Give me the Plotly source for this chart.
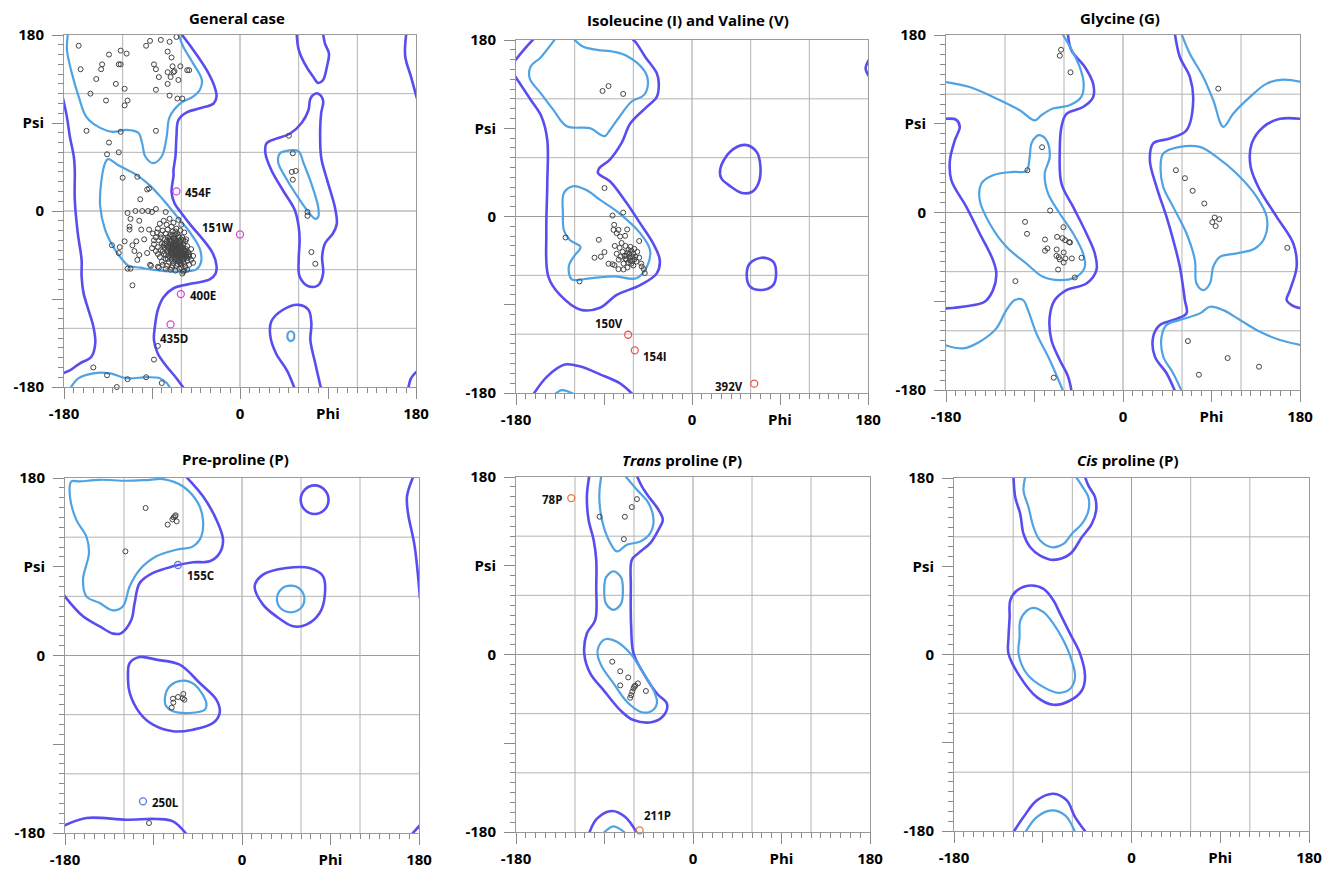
import plotly.graph_objects as go

# ---------------- general settings ----------------
W, H = 1328, 870
DARK = "#5a4df0"
LIGHT = "#4fa3e3"
PT_COLOR = "#444444"
FONT = "Open Sans"

TICK_VALS = [-180, -90, 0, 90, 180]
X_TICK_TEXT = ["-180", "", "0", "Phi", "180"]
Y_TICK_TEXT = ["-180", "", "0", "Psi", "180"]
GRID_VALS = [-120, -60, 0, 60, 120]

TITLES = ["<b>General case</b>", "<b>Isoleucine (I) and Valine (V)</b>", "<b>Glycine (G)</b>",
          "<b>Pre-proline (P)</b>", "<b><i>Trans</i> proline (P)</b>", "<b><i>Cis</i> proline (P)</b>"]

# ---------------- panel 1 : general case ----------------
P1_OUTER = [
    [(-181, 115), (-177, 96), (-174, 76), (-170, 56), (-169, 42), (-169, 12), (-166, -22), (-162, -50),
     (-162, -67), (-160, -84), (-155, -101), (-150, -118), (-148, -135), (-152, -149), (-164, -156),
     (-174, -163), (-181, -166)],
    [(-60, 181), (-48, 165), (-34, 144), (-26, 127), (-24, 117), (-27, 110), (-41, 105), (-54, 101),
     (-63, 93), (-65, 76), (-66, 56), (-68, 42), (-68, 36), (-70, 19), (-67, 8), (-60, -2), (-50, -15),
     (-38, -29), (-28, -43), (-24, -56), (-25, -64), (-31, -70), (-48, -74), (-68, -79), (-78, -88),
     (-84, -101), (-87, -118), (-88, -132), (-84, -146), (-75, -159), (-65, -171), (-57, -182)],
    [(58, 181), (60, 165), (66, 151), (75, 137), (80, 131), (85, 134), (89, 148), (91, 161), (87, 171), (85, 181)],
    [(56, -182), (48, -163), (37, -146), (31, -128), (32, -113), (44, -101), (60, -96), (70, -101),
     (73, -115), (72, -132), (77, -156), (83, -182)],
    [(80, 120), (85, 113), (83, 100), (82, 83), (83, 55), (89, 32), (97, 4), (99, -13), (95, -23), (87, -33),
     (84, -47), (85, -64), (80, -76), (70, -77), (61, -67), (60, -50), (61, -30), (60, -16), (56, 1),
     (44, 21), (32, 42), (26, 59), (27, 69), (37, 74), (51, 79), (63, 90), (70, 103), (72, 115), (77, 120), (80, 120)],
    [(170, 181), (169, 158), (175, 137), (181, 115)],
    [(172, -182), (175, -171), (181, -164)],
]
P1_INNER = [
    [(-176, 181), (-177, 165), (-172, 141), (-165, 117), (-157, 96), (-143, 85), (-130, 81), (-116, 83),
     (-104, 80), (-100, 69), (-97, 56), (-89, 49), (-80, 56), (-75, 76), (-72, 96), (-61, 110), (-48, 117),
     (-41, 124), (-39, 134), (-48, 151), (-58, 168), (-63, 181)],
    [(-174, -182), (-165, -171), (-150, -166), (-133, -166), (-116, -171), (-95, -170), (-82, -171),
     (-75, -176), (-71, -182)],
    [(-135, 53), (-123, 46), (-106, 37), (-92, 26), (-79, 12), (-65, -5), (-51, -22), (-41, -39), (-40, -53),
     (-45, -60), (-62, -62), (-82, -61), (-102, -58), (-114, -56), (-121, -49), (-130, -36), (-138, -19),
     (-143, 5), (-142, 29), (-138, 49), (-135, 53)],
    [(41, 59), (51, 62), (60, 61), (65, 49), (73, 28), (80, 4), (80, -6), (77, -8), (70, -1), (60, 13),
     (48, 32), (39, 50), (41, 59)],
    [(52, -123), (55, -125), (55, -131), (52, -133), (49, -131), (49, -125), (52, -123)],
]
P1_POINTS = [
    # beta / upper-left region
    (-165, 169), (-134, 160), (-122, 164), (-116, 161), (-141, 150), (-142, 145), (-124, 150), (-122, 150),
    (-163, 145), (-147, 135), (-127, 130), (-118, 125), (-153, 120), (-137, 113), (-115, 113), (-118, 108),
    (-96, 169), (-92, 174), (-81, 175), (-72, 173), (-65, 178), (-74, 163), (-70, 157), (-88, 150), (-86, 145),
    (-74, 142), (-69, 148), (-67, 143), (-68, 142), (-71, 137), (-61, 148), (-54, 144), (-52, 144), (-83, 137),
    (-63, 134), (-74, 130), (-86, 124), (-72, 118), (-64, 115), (-59, 115), (-157, 82), (-122, 81), (-86, 82),
    (-134, 70), (-136, 58), (-124, 60),
    # sparse alpha region
    (-120, 34), (-105, 35), (-93, 23), (-95, 22), (-102, 12), (-115, -2), (-107, 0), (-100, 0), (-94, 0),
    (-90, -1), (-86, 2), (-76, -1), (-112, -8), (-103, -10), (-113, -16), (-113, -19), (-101, -19), (-93, -19),
    (-89, -23), (-118, -31), (-106, -31), (-98, -29), (-131, -35), (-123, -37), (-124, -43), (-110, -35),
    (-108, -41), (-103, -45), (-95, -43), (-91, -56), (-105, -50), (-115, -59), (-112, -59), (-83, -58),
    (-92, -55), (-84, -57), (-71, -60), (-58, -62),
    # dense alpha cluster
    (-78, -10), (-72, -8), (-68, -12), (-63, -9), (-75, -14), (-82, -13), (-60, -14), (-70, -16),
    (-84, -18), (-79, -20), (-74, -19), (-69, -21), (-65, -18), (-61, -20), (-57, -22), (-76, -23), (-81, -24),
    (-66, -24), (-86, -27), (-72, -26), (-68, -28), (-63, -26), (-59, -27), (-55, -29), (-77, -29), (-83, -30),
    (-70, -31), (-65, -30), (-61, -32), (-88, -34), (-80, -33), (-75, -35), (-72, -33), (-67, -35), (-63, -36),
    (-58, -34), (-54, -36), (-69, -38), (-77, -38), (-84, -37), (-60, -38), (-65, -33), (-56, -31), (-86, -41),
    (-81, -40), (-74, -41), (-71, -43), (-66, -40), (-62, -42), (-57, -40), (-53, -42), (-50, -39), (-68, -45),
    (-64, -44), (-59, -45), (-78, -44), (-55, -44), (-73, -46), (-82, -47), (-76, -49), (-70, -50), (-66, -48),
    (-61, -49), (-57, -48), (-52, -47), (-48, -46), (-63, -52), (-58, -52), (-54, -51), (-68, -53), (-73, -52),
    (-50, -50), (-79, -55), (-65, -56), (-60, -55), (-56, -57), (-52, -55), (-62, -59), (-57, -61), (-54, -60),
    (-70, -58), (-48, -53), (-66, -61), (-59, -64), (-76, -59), (-67, -37), (-64, -39), (-62, -37), (-69, -41),
    (-66, -43), (-61, -44), (-63, -47), (-60, -41), (-58, -38), (-65, -46), (-71, -39), (-68, -34), (-62, -30),
    (-57, -43), (-59, -50), (-64, -35), (-70, -36), (-67, -31), (-72, -29), (-56, -47), (-61, -53), (-53, -45),
    (-74, -37), (-67, -50), (-55, -39), (-78, -35), (-75, -31), (-81, -27), (-66, -21), (-71, -24), (-85, -22),
    (-88, -30), (-90, -38), (-84, -44), (-80, -52), (-75, -56),
    (-66, -36), (-64, -41), (-61, -40), (-63, -43), (-67, -42), (-65, -38), (-62, -45), (-60, -47), (-58, -43),
    (-64, -49), (-69, -46), (-66, -45), (-63, -40), (-60, -36), (-68, -39), (-70, -44), (-59, -40), (-65, -42),
    (-62, -39), (-67, -47), (-56, -41), (-61, -35), (-64, -37), (-57, -45), (-69, -33), (-71, -41), (-66, -34),
    (-58, -49), (-55, -46), (-62, -51), (-65, -51), (-70, -47), (-73, -43), (-72, -36), (-60, -43), (-63, -33),
    (-67, -28), (-71, -31), (-58, -30), (-54, -48), (-52, -44), (-57, -54), (-60, -58), (-64, -54), (-69, -56),
    (-74, -49), (-76, -45), (-79, -41), (-73, -38), (-77, -33), (-74, -27), (-69, -25), (-64, -23), (-62, -27),
    (-66, -30), (-60, -29),
    # lower-left region
    (-110, -76), (-84, -138), (-88, -152), (-150, -160), (-136, -168), (-115, -172), (-96, -170), (-80, -176),
    (-126, -180),
    # left-handed region
    (50, 77), (54, 59), (53, 40), (57, 41), (54, 32), (69, -1), (69, -5), (73, -42), (77, -54),
]
P1_OUT_NAMES = ["454F", "151W", "400E", "435D"]
P1_OUT_PHI = [-65, 0, -60.5, -71]
P1_OUT_PSI = [20, -24, -85, -116]
P1_LABEL_PHI = [-58, -4, -53, -68]
P1_LABEL_PSI = [19, -17, -86, -130]
P1_LABEL_ANCHOR = ["left", "right", "left", "center"]

# ---------------- panel 2 : Ile / Val ----------------
P2_OUTER = [
    [(-181, 159), (-172, 170), (-162, 181)],
    [(-181, 143), (-165, 119), (-154, 102), (-148, 78), (-148, 34), (-149, -17), (-147, -61), (-135, -80),
     (-114, -95), (-94, -93), (-77, -80), (-53, -70), (-36, -58), (-33, -44), (-40, -27), (-53, -7), (-67, 14),
     (-84, 36), (-96, 44), (-95, 49), (-84, 58), (-72, 75), (-63, 95), (-46, 112), (-36, 122), (-34, 136),
     (-36, 146), (-48, 163), (-57, 177), (-61, 181)],
    [(-162, -181), (-148, -163), (-130, -151), (-114, -153), (-94, -161), (-74, -170), (-61, -181)],
    [(181, 160), (177.6, 151), (181, 143)],
    [(29, 49), (39, 66), (54, 73), (66, 66), (70, 51), (68, 34), (61, 25), (51, 24), (39, 31), (30, 39), (29, 49)],
    [(56, -58), (59, -48), (71, -42), (83, -46), (86, -58), (83, -70), (71, -75), (59, -71), (56, -58)],
]
P2_INNER = [
    [(-121, 181), (-111, 173), (-97, 170), (-80, 168), (-67, 164), (-49, 149), (-45, 137), (-49, 124),
     (-62, 117), (-74, 102), (-84, 88), (-89, 82), (-93, 83), (-104, 90), (-128, 92), (-142, 109), (-155, 126),
     (-166, 141), (-165, 153), (-155, 162), (-140, 181)],
    [(-140, -181), (-133, -177), (-121, -181)],
    [(-131, 24), (-121, 31), (-108, 27), (-94, 17), (-74, 3), (-53, -17), (-43, -34), (-46, -51), (-57, -63),
     (-80, -61), (-104, -63), (-123, -64), (-126, -51), (-121, -41), (-114, -31), (-125, -24), (-131, -14),
     (-132, 3), (-131, 24)],
]
P2_POINTS = [
    (-91.5, 128), (-85.4, 133), (-70.4, 125), (-89.5, 29), (-70.4, 4), (-81.3, 1), (-129.3, -21.4),
    (-95.3, -23.8), (-66.3, -13.2), (-79.6, -8.5), (-75.2, -13.6), (-80.3, -13.6), (-77, -17), (-73.5, -20.4),
    (-68.4, -19.7), (-54, -25), (-89.5, -36.3), (-93.2, -41), (-99.7, -42), (-85.4, -48.2), (-81.3, -48.6),
    (-79.3, -49.6), (-75.2, -53.7), (-115, -66.2), (-48.3, -57.7), (-49.3, -53.7), (-51.4, -51),
    (-62, -35), (-66, -37), (-69, -40), (-64, -42), (-60, -38), (-71, -36), (-67, -44), (-61, -45), (-58, -41),
    (-73, -41), (-65, -47), (-70, -48), (-75, -44), (-56, -36), (-63, -31), (-68, -30), (-72, -27), (-57, -46),
    (-54, -42), (-60, -50), (-66, -52), (-77, -38), (-59, -33), (-74, -32), (-62, -48), (-68, -43), (-65, -34),
    (-52, -48), (-79, -30), (-70, -54), (-64, -38), (-61, -41), (-67, -40), (-63, -45), (-59, -44),
]
P2_OUT_NAMES = ["150V", "154I", "392V"]
P2_OUT_PHI = [-65.3, -58.5, 63.6]
P2_OUT_PSI = [-120.6, -136.5, -170.5]
P2_LABEL_PHI = [-84.7, -52, 54]
P2_LABEL_PSI = [-109, -143, -173]
P2_LABEL_ANCHOR = ["center", "left", "right"]

# ---------------- panel 3 : glycine ----------------
P3_OUTER = [
    [(-56, 181), (-52.5, 164.5), (-38.8, 147.6), (-30.4, 130.7), (-30.4, 117), (-40.6, 107), (-57.5, 100),
     (-62.6, 86.8), (-64.3, 63), (-62.6, 29.4), (-50.7, 5.7), (-37.2, -21.3), (-28.7, -41.5), (-27, -58.4),
     (-37.2, -72), (-57.5, -78.7), (-69.4, -88.8), (-74.5, -105.7), (-72.8, -129.3), (-64.3, -149.6),
     (-55.8, -166.5), (-52.4, -181)],
    [(-181, 95), (-169.5, 94), (-166, 86.8), (-171, 73.3), (-176, 53), (-174.6, 32.8), (-159.3, 5.7),
     (-145.7, -21.3), (-132.2, -48.3), (-128.8, -61.8), (-132.2, -78.7), (-140.7, -90.5), (-159.3, -95),
     (-181, -97.3)],
    [(52.8, 181), (57.8, 157.7), (68, 137.5), (71.4, 113.8), (64.6, 83.4), (47.7, 75), (30.7, 70), (27.3, 53),
     (34.1, 26), (44.3, -4.4), (51.1, -28), (57.8, -55), (62.9, -88.8), (64.6, -102.3), (51, -109),
     (37.5, -114), (30.7, -126), (32.4, -146.2), (44.3, -163), (52.8, -181)],
    [(181, 95), (159.7, 95), (142.7, 86.8), (130.9, 70), (129.8, 46.3), (139.3, 22.6), (156.3, -4.4),
     (173.2, -31.4), (176.6, -55), (169.8, -78.7), (166.4, -88.8), (171.5, -93.9), (181, -97.3)],
]
P3_INNER = [
    [(-181, 132.4), (-156, 127.3), (-132.2, 117.2), (-105, 103.7), (-89.8, 93.5), (-83, 98.6), (-71.3, 105.4),
     (-54.3, 108.7), (-42.4, 117.2), (-40, 130.7), (-44, 147.6), (-52, 164.5), (-61.5, 181)],
    [(-84.6, 78.4), (-77.8, 73.3), (-74.5, 56.4), (-79.6, 39.5), (-76.2, 19.3), (-64.3, -1), (-50.7, -21.3),
     (-40.6, -41.5), (-38.8, -55), (-47.3, -65.2), (-64.3, -68.6), (-81.3, -65.2), (-98.3, -51.7),
     (-118.6, -34.8), (-135.6, -11.1), (-145.7, 12.5), (-144, 29.4), (-132.2, 37.8), (-111.8, 41.2),
     (-98.3, 41.9), (-94.9, 56.4), (-93.2, 69.9), (-88.1, 77.3), (-84.6, 78.4)],
    [(-181, -134.4), (-162.7, -137.8), (-145.7, -131), (-128.8, -117.5), (-118.6, -99), (-110, -88.8),
     (-101.6, -88.8), (-96.6, -99), (-88.1, -122.6), (-74.5, -149.6), (-60.9, -181)],
    [(59.6, 181), (68, 161), (81.6, 137.5), (91.8, 113.8), (102, 86.8), (112.2, 100.3), (129.2, 117.2),
     (146.1, 130.7), (163, 134.8), (181, 132.4)],
    [(40.9, 59.8), (57.8, 66.5), (78.2, 66.5), (95.1, 56.4), (115.5, 39.5), (135.9, 15.9), (146.1, -4.4),
     (144.4, -24.7), (134.2, -36.5), (115.5, -41.5), (98.5, -45), (91.8, -55), (88.4, -72), (81.6, -78.7),
     (74.8, -72), (73.1, -48.3), (64.6, -21.3), (51, 5.7), (40.9, 26), (38.2, 46.3), (40.9, 59.8)],
    [(181, -134.4), (159.7, -129.3), (139.3, -121), (119, -109), (102, -99), (88.4, -95.6), (78.2, -102.3),
     (57.8, -109), (44.3, -114), (39.2, -126), (40.9, -146), (51, -163), (59.6, -181)],
]
P3_POINTS = [
    (-63, 165), (-64.3, 159), (-53.4, 142.2), (-82.3, 66.2), (-97.2, 42.9), (-74.1, 2), (-99.6, -9.5),
    (-97.6, -21.6), (-79.3, -27.4), (-67, -24.7), (-61.6, -26), (-58.9, -28), (-54.8, -30), (-53.8, -30.4),
    (-60.6, -14.9), (-76.9, -36.5), (-79.3, -38.8), (-67.4, -37.5), (-60.3, -40.5), (-67.7, -43.9),
    (-65.3, -45.3), (-64.3, -47.6), (-60.3, -50.7), (-58.5, -46.6), (-52, -46.6), (-42.2, -45.9), (-66, -57.8),
    (-49, -65.9), (-109.4, -69.6), (-70.4, -167.5),
    (96.9, 125.6), (53.8, 42.9), (63, 34.8), (70.8, 22), (82.7, 9.1), (93.2, -5.1), (97.9, -6.8), (90.8, -9.8),
    (94.2, -13.8), (167.1, -35.8), (66, -130.4), (106.4, -147.6), (77.2, -164.5), (138.3, -156.4),
]

# ---------------- panel 4 : pre-proline ----------------
P4_OUTER = [
    [(-56.6, 181), (-39.7, 161.4), (-26.1, 137.8), (-19.3, 117.5), (-22.7, 104), (-32.9, 95.5), (-49.8, 94.5),
     (-70.2, 90.4), (-90.5, 83.7), (-104, 73.5), (-109.2, 53.2), (-112.5, 36.3), (-122.7, 22.8), (-131.2, 22.2),
     (-144.7, 29.6), (-161.7, 39.7), (-181, 61)],
    [(174, 181), (167.8, 161.4), (168.8, 144.5), (175.6, 110.7), (181, 58)],
    [(-181, -172.6), (-158.3, -164.8), (-117.6, -166.5), (-87.1, -165.8), (-70.2, -168.2), (-56.6, -181)],
    [(172, -182), (181, -172)],
    [(59.7, 158), (63.7, 168), (73.9, 172.5), (84, 168), (88, 158), (84, 147.9), (73.9, 143.5), (63.7, 147.9),
     (59.7, 158)],
    [(12.9, 70.2), (21.4, 82), (45.1, 88.7), (68.8, 88.7), (82.4, 80.3), (84.1, 60), (79, 43.1), (65.4, 31.3),
     (51.9, 29.6), (34.9, 39.7), (21.4, 51.6), (12.9, 70.2)],
    [(-114.2, -7.6), (-104, -1.5), (-87.1, -4.2), (-63.4, -9.3), (-43, -27.9), (-26.1, -44.8), (-22.7, -58.3),
     (-29.5, -68.5), (-49.8, -75.2), (-70.2, -76.9), (-90.5, -70.2), (-104, -58.3), (-114.2, -38),
     (-115.9, -24.5), (-114.2, -7.6)],
]
P4_INNER = [
    [(-173.6, 176.5), (-175, 161.3), (-168.5, 137.6), (-158.3, 120.7), (-155.6, 103.9), (-161.7, 76.9),
     (-158.3, 60), (-144.7, 53.2), (-131.2, 45.8), (-121, 49.9), (-114.2, 70.2), (-104.1, 87), (-87.1, 100.6),
     (-66.8, 107.3), (-49.8, 110.7), (-41.4, 120.7), (-39.7, 137.6), (-44.7, 154.5), (-60, 171.4),
     (-80.3, 178.8), (-93.9, 178.2), (-117.6, 177.2), (-144.7, 178.2), (-165, 176.5), (-173.6, 176.5)],
    [(35.5, 57.3), (39.6, 67), (49.5, 70.8), (59.4, 67), (63.5, 57.3), (59.4, 47.6), (49.5, 43.8), (39.6, 47.6),
     (35.5, 57.3)],
    [(-78.6, -44.8), (-73.6, -31.3), (-60, -25.5), (-48.1, -29.6), (-36.3, -48.2), (-37.9, -55), (-53.2, -58.3),
     (-70.2, -56.6), (-77, -51.6), (-78.6, -44.8)],
]
P4_POINTS = [
    (-98, 149.6), (-67.5, 142.2), (-69.5, 140.1), (-70.8, 138), (-66.4, 136), (-75.6, 132.7), (-68.1, 141.1),
    (-118.6, 105.6), (-59.7, -39), (-70.2, -43.8), (-65.1, -42.1), (-60.3, -43.4), (-58.6, -44.8),
    (-69.8, -47.8), (-71.5, -52.9), (-94.6, -169.9),
]
P4_OUT_NAMES = ["155C", "250L"]
P4_OUT_PHI = [-65.1, -100.7]
P4_OUT_PSI = [91.8, -147.9]
P4_LABEL_PHI = [-58, -94]
P4_LABEL_PSI = [81, -149]
P4_LABEL_ANCHOR = ["left", "left"]

# ---------------- panel 5 : trans proline ----------------
P5_OUTER = [
    [(-105.5, 181), (-107.9, 160.3), (-106.2, 136.6), (-101.1, 116.3), (-98.4, 96), (-98.4, 68.9), (-99.4, 35),
     (-107.9, 21.5), (-110.6, 1.2), (-104.5, -19.1), (-91, -36.1), (-74, -56.4), (-60.5, -66.5), (-40.2, -68.2),
     (-28.3, -59.8), (-26.6, -49.6), (-36.7, -39.5), (-50.3, -19.1), (-60.5, 1.2), (-62.9, 28.3), (-63.2, 68.9),
     (-62.2, 96), (-55.4, 102.8), (-43.5, 112.9), (-35.1, 126.5), (-30.7, 136.6), (-35.1, 146.8),
     (-45.2, 160.3), (-52, 170.5), (-57, 181)],
    [(-105.5, -181), (-97.7, -166.5), (-82.5, -158.7), (-68.9, -164.8), (-57, -181)],
]
P5_INNER = [
    [(-93.3, 181), (-95.3, 160.3), (-92.6, 136.6), (-85.8, 116.3), (-77.4, 104.5), (-67.2, 111.3),
     (-53.6, 114.6), (-43.5, 123.1), (-40.1, 136.6), (-45.2, 153.5), (-57, 167), (-68.9, 181)],
    [(-91, -181), (-80.8, -174.2), (-68.9, -181)],
    [(-90.3, 64.8), (-88.5, 78), (-80.8, 84.4), (-73.1, 78), (-71.3, 64.8), (-73.1, 51.6), (-80.8, 45.2),
     (-88.5, 51.6), (-90.3, 64.8)],
    [(-96, 8), (-89.2, 15.4), (-77.4, 13), (-63.9, 1.2), (-50.3, -19.1), (-40.2, -36), (-36.7, -49.6),
     (-43.5, -58), (-53.6, -58), (-67.2, -47.9), (-80.8, -29.3), (-92.6, -12.4), (-97, -0.5), (-96, 8)],
]
P5_POINTS = [
    (-57, 157.6), (-62.2, 149.5), (-69.3, 139.7), (-95, 139.7), (-70.3, 117), (-82.1, -7.3), (-74, -17),
    (-65.9, -23.2), (-74, -31.3), (-56, -29.3), (-58.7, -31.6), (-60.5, -34.4), (-61.8, -37.7), (-62.9, -41.2),
    (-63.9, -43.9), (-47.9, -37), (-59.8, -32.6),
]
P5_OUT_NAMES = ["78P", "211P"]
P5_OUT_PHI = [-123.8, -54.3]
P5_OUT_PSI = [158.6, -178.3]
P5_LABEL_PHI = [-131, -52]
P5_LABEL_PSI = [157, -163]
P5_LABEL_ANCHOR = ["right", "left"]

# ---------------- panel 6 : cis proline ----------------
P6_OUTER = [
    [(-119.6, 181), (-117.9, 160.3), (-112.8, 143.3), (-109.5, 123), (-102.7, 109.4), (-92.6, 100.9),
     (-79.1, 96.5), (-62.2, 102.6), (-50.4, 119.6), (-40.3, 133.2), (-35.9, 146.7), (-36.9, 160.3),
     (-43.7, 172.2), (-47.1, 181)],
    [(-123, 55), (-116.2, 65.2), (-102.7, 70.3), (-89.2, 66.9), (-79.1, 55), (-72.3, 41.4), (-62.2, 21.1),
     (-52.1, 0.7), (-47.1, -23.1), (-50.4, -36.7), (-62.2, -46.9), (-79.1, -51.3), (-96, -43.5),
     (-112.8, -23.1), (-124.7, 0.7), (-124.7, 17.7), (-123.6, 38), (-123, 55)],
    [(-119.6, -181), (-109.5, -165.8), (-96, -148.8), (-79.1, -142), (-65.6, -148.8), (-57.2, -165.8),
     (-46.4, -181)],
]
P6_INNER = [
    [(-107.8, 181), (-109.5, 167.1), (-104.4, 150.1), (-99.3, 129.8), (-92.6, 116.2), (-80.8, 109.4),
     (-69, 112.8), (-60.6, 123), (-50.4, 133.2), (-43.7, 146.7), (-43.7, 160.3), (-50.4, 172.2), (-56.2, 181)],
    [(-112.8, 34.6), (-106.1, 44.8), (-99.3, 47.6), (-89.2, 43.1), (-79.1, 31.3), (-69, 14.3), (-60.6, -6.1),
     (-57.2, -23.1), (-62.2, -35), (-74, -39.1), (-89.2, -33.3), (-106.1, -19.7), (-114.5, 0.7),
     (-113.5, 17.7), (-112.8, 34.6)],
    [(-107.5, -181), (-96, -165.8), (-80.8, -159), (-67.3, -164.1), (-57.2, -181)],
]
P6_POINTS = []

# ---------------- layout geometry (pixel boxes of the plot areas) ----------------
BOXES = [(64, 416, 35, 387), (516, 868, 40, 393), (946, 1300, 35, 390),
         (65, 419, 478, 833), (516, 870, 477, 832), (954, 1309, 478, 831)]
TITLE_POS = [(237, 18), (688, 20), (1120, 18), (235, 459), (682, 460), (1128, 460)]

PANELS = [
    (P1_OUTER, P1_INNER, P1_POINTS, (P1_OUT_NAMES, P1_OUT_PHI, P1_OUT_PSI, P1_LABEL_PHI, P1_LABEL_PSI, P1_LABEL_ANCHOR), "#d548d5"),
    (P2_OUTER, P2_INNER, P2_POINTS, (P2_OUT_NAMES, P2_OUT_PHI, P2_OUT_PSI, P2_LABEL_PHI, P2_LABEL_PSI, P2_LABEL_ANCHOR), "#f05555"),
    (P3_OUTER, P3_INNER, P3_POINTS, None, None),
    (P4_OUTER, P4_INNER, P4_POINTS, (P4_OUT_NAMES, P4_OUT_PHI, P4_OUT_PSI, P4_LABEL_PHI, P4_LABEL_PSI, P4_LABEL_ANCHOR), "#5a78e6"),
    (P5_OUTER, P5_INNER, P5_POINTS, (P5_OUT_NAMES, P5_OUT_PHI, P5_OUT_PSI, P5_LABEL_PHI, P5_LABEL_PSI, P5_LABEL_ANCHOR), "#e8773a"),
    (P6_OUTER, P6_INNER, P6_POINTS, None, None),
]

fig = go.Figure()
layout = dict(width=W, height=H, margin=dict(l=0, r=0, t=0, b=0, autoexpand=False), paper_bgcolor="white",
              plot_bgcolor="white", showlegend=False, font=dict(family=FONT, color="black"))
shapes = []
annotations = []

for i, (outer, inner, pts, outl, ocol) in enumerate(PANELS):
    n = i + 1
    xa = "x" if n == 1 else f"x{n}"
    ya = "y" if n == 1 else f"y{n}"
    x0, x1, y0, y1 = BOXES[i]
    common = dict(range=[-180, 180], tickmode="array", tickvals=TICK_VALS, ticks="outside", ticklen=11,
                  tickcolor="#8a8a8a", showgrid=False, zeroline=False, showline=True, linecolor="#9a9a9a",
                  linewidth=1, mirror=True, fixedrange=True, automargin=False,
                  tickfont=dict(family=FONT, size=15, color="black", weight="bold"),
                  minor=dict(dtick=10, tick0=0, ticks="outside", ticklen=5, tickcolor="#8a8a8a", showgrid=False))
    layout["xaxis" if n == 1 else f"xaxis{n}"] = dict(common, domain=[x0 / W, x1 / W], anchor=ya,
                                                        ticktext=X_TICK_TEXT, ticklabelstandoff=2)
    layout["yaxis" if n == 1 else f"yaxis{n}"] = dict(common, domain=[1 - y1 / H, 1 - y0 / H], anchor=xa,
                                                        ticktext=Y_TICK_TEXT, ticklabelstandoff=5)
    # grid lines
    for g in GRID_VALS:
        col = "#9c9c9c" if g == 0 else "#b4b4b4"
        shapes.append(dict(type="line", xref=xa, yref=ya, x0=g, x1=g, y0=-180, y1=180,
                           line=dict(color=col, width=1), layer="below"))
        shapes.append(dict(type="line", xref=xa, yref=ya, x0=-180, x1=180, y0=g, y1=g,
                           line=dict(color=col, width=1), layer="below"))
    # contours
    for path in outer:
        fig.add_trace(go.Scatter(x=[p[0] for p in path], y=[p[1] for p in path], mode="lines",
                                 line=dict(color=DARK, width=2.6, shape="spline", smoothing=1.0),
                                 xaxis=xa, yaxis=ya, hoverinfo="skip"))
    for path in inner:
        fig.add_trace(go.Scatter(x=[p[0] for p in path], y=[p[1] for p in path], mode="lines",
                                 line=dict(color=LIGHT, width=2.2, shape="spline", smoothing=1.0),
                                 xaxis=xa, yaxis=ya, hoverinfo="skip"))
    # residues
    if pts:
        fig.add_trace(go.Scatter(x=[p[0] for p in pts], y=[p[1] for p in pts], mode="markers",
                                 marker=dict(symbol="circle-open", size=5, color=PT_COLOR, line=dict(width=1)),
                                 xaxis=xa, yaxis=ya, cliponaxis=False))
    if outl:
        names, ophi, opsi, lphi, lpsi, lanc = outl
        fig.add_trace(go.Scatter(x=ophi, y=opsi, mode="markers",
                                 marker=dict(symbol="circle-open", size=7, color=ocol, line=dict(width=1.3)),
                                 xaxis=xa, yaxis=ya, cliponaxis=False))
        for nm, lx, ly, an in zip(names, lphi, lpsi, lanc):
            annotations.append(dict(text=f"<b>{nm}</b>", x=lx, y=ly, xref=xa, yref=ya, showarrow=False,
                                    xanchor=an, yanchor="middle",
                                    font=dict(family=FONT, size=11.5, color="#111111")))
    tx, ty = TITLE_POS[i]
    annotations.append(dict(text=TITLES[i], x=tx / W, y=1 - ty / H, xref="paper", yref="paper",
                            showarrow=False, xanchor="center", yanchor="middle",
                            font=dict(family=FONT, size=15, color="black")))

layout["shapes"] = shapes
layout["annotations"] = annotations
fig.update_layout(**layout)
fig.write_html("out.html", config={"displayModeBar": False},
               post_script="document.body.style.margin='0px';document.body.style.overflow='hidden';")
